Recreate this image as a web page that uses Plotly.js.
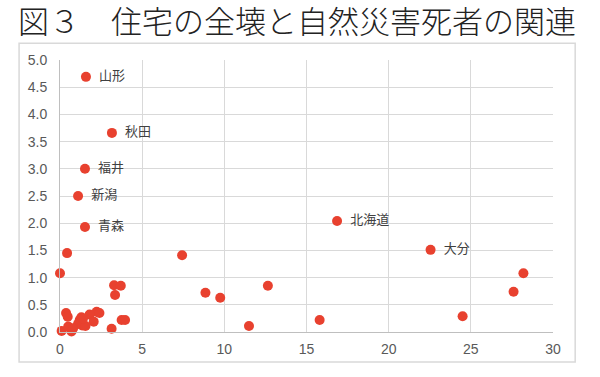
<!DOCTYPE html>
<html>
<head>
<meta charset="utf-8">
<script src="https://cdn.plot.ly/plotly-3.0.1.min.js"></script>
<style>html,body{margin:0;padding:0;background:#fff;}#chart{width:600px;height:377px;}</style>
</head>
<body>
<div id="chart"></div>
<script>
// x: 住宅の全壊 (values), y: 自然災害死者 (values)
const xValues = [1.58, 3.16, 1.52, 1.10, 1.52, 0.43, 0.00, 7.43, 16.86, 22.55, 28.2, 27.6, 24.5, 8.85, 9.75, 12.65, 11.5, 15.8,
  3.29, 3.70, 3.35, 3.75, 3.96, 3.14,
  0.37, 0.47, 2.23, 2.40, 1.80, 1.20, 1.30, 2.05, 1.10, 1.35, 1.55, 0.10, 0.50, 0.70, 0.80, 1.40];
const yValues = [4.69, 3.66, 3.00, 2.50, 1.93, 1.45, 1.08, 1.41, 2.04, 1.51, 1.08, 0.74, 0.29, 0.72, 0.63, 0.85, 0.11, 0.22,
  0.86, 0.85, 0.68, 0.22, 0.22, 0.06,
  0.35, 0.28, 0.37, 0.35, 0.32, 0.22, 0.27, 0.19, 0.15, 0.12, 0.11, 0.02, 0.10, 0.01, 0.07, 0.25];
const pointLabels = ["山形", "秋田", "福井", "新潟", "青森", "", "", "", "北海道", "大分", "", "", "", "", "", "", "", "",
  "", "", "", "", "", "",
  "", "", "", "", "", "", "", "", "", "", "", "", "", "", "", ""];
const xTickValues = [0, 5, 10, 15, 20, 25, 30];
const yTickValues = [0, 0.5, 1, 1.5, 2, 2.5, 3, 3.5, 4, 4.5, 5];
const titleText = "図３　住宅の全壊と自然災害死者の関連";

const trace = {
  type: "scatter",
  mode: "markers+text",
  x: xValues,
  y: yValues,
  text: pointLabels.map(s => s ? "  " + s : ""),
  textposition: "middle right",
  textfont: {family: "Noto Sans CJK JP, sans-serif", size: 13, color: "#404040"},
  marker: {color: "#E8412F", size: 10, line: {width: 0}},
  cliponaxis: false,
  hoverinfo: "x+y"
};

const axisFont = {family: "Liberation Sans, Arial, sans-serif", size: 14, color: "#595959"};
const layout = {
  width: 600, height: 377,
  margin: {l: 60, r: 47, t: 60, b: 45},
  paper_bgcolor: "#ffffff",
  plot_bgcolor: "#ffffff",
  showlegend: false,
  title: {
    text: titleText,
    font: {family: "Noto Sans CJK JP, sans-serif", size: 31, color: "#222222", weight: 300},
    x: 0.03, xanchor: "left", xref: "container",
    y: 0.942, yanchor: "middle", yref: "container"
  },
  xaxis: {
    range: [0, 30], tickvals: xTickValues, ticktext: xTickValues.map(String),
    showgrid: true, gridcolor: "#d9d9d9", gridwidth: 1,
    zeroline: false, showline: true, linecolor: "#bfbfbf", linewidth: 1,
    ticks: "", tickfont: axisFont, ticklabelstandoff: 4, fixedrange: true
  },
  yaxis: {
    range: [0, 5], tickvals: yTickValues, ticktext: yTickValues.map(v => v.toFixed(1)),
    showgrid: true, gridcolor: "#d9d9d9", gridwidth: 1,
    zeroline: false, showline: true, linecolor: "#bfbfbf", linewidth: 1,
    ticks: "", tickfont: axisFont, ticklabelstandoff: 9, fixedrange: true
  },
  shapes: [{
    type: "rect", xref: "paper", yref: "paper",
    x0: -0.083, x1: 1.045, y0: -0.11, y1: 1.062,
    line: {color: "#d9d9d9", width: 1.5}, fillcolor: "rgba(0,0,0,0)", layer: "below"
  }]
};

Plotly.newPlot("chart", [trace], layout, {displayModeBar: false, staticPlot: true});
</script>
</body>
</html>
